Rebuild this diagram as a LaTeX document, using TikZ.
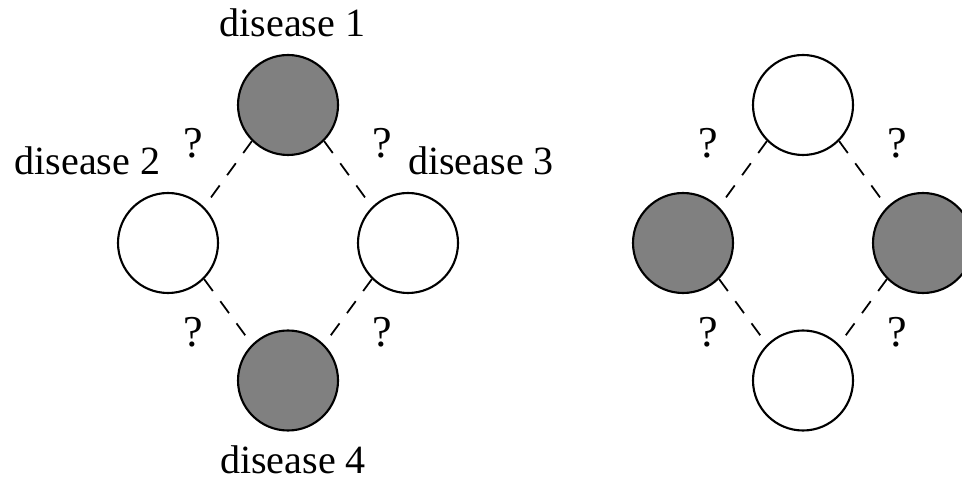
\documentclass[tikz,border=0pt]{standalone}
\usepackage{fontspec}
\setmainfont{Liberation Serif}
\usepackage{xcolor}

\begin{document}
\begin{tikzpicture}[
		every node/.style={font=\fontsize{11.4}{13}\selectfont},
		dis/.style={
			circle, draw,
			line width=.6pt,
			minimum size=1cm,
			inner sep=0pt,
		},
		sick/.style={dis, fill=gray},
		link/.style={dash pattern=on 4.2pt off 3.6pt, line width=.5pt},
		lbl/.style={anchor=base, inner sep=0pt},
		qm/.style={inner sep=0pt, scale=1.1}]
		\useasboundingbox (0,0) rectangle (9.62,4.88);
		\def\dx{1.2}; \def\dy{1.38}; \def\qx{0.945};
		
		% observed pattern
		\def\cx{2.88}; \def\cy{2.45};
			\node[sick] (a1) at (\cx,\cy+\dy) {};
			\node[dis]  (a2) at (\cx-\dx,\cy) {};
			\node[dis]  (a3) at (\cx+\dx,\cy) {};
			\node[sick] (a4) at (\cx,\cy-\dy+0.005) {};
			\draw[link] (a1.south west) -- (a2.north east);
			\draw[link] (a1.south east) -- (a3.north west);
			\draw[link] (a2.south east) -- (a4.north west);
			\draw[link] (a3.south west) -- (a4.north east);
			\node[lbl] (l1) at (2.925,4.51) {disease 1};
			\node[lbl] (l2) at (0.875,3.13) {disease 2};
			\node[lbl] (l3) at (4.81,3.13) {disease 3};
			\node[lbl] (l4) at (2.93,0.15) {disease 4};
			\node[qm] (qa1) at (\cx-\qx,3.45) {?};
			\node[qm] (qa2) at (\cx+\qx,3.45) {?};
			\node[qm] (qa3) at (\cx-\qx,1.56) {?};
			\node[qm] (qa4) at (\cx+\qx,1.56) {?};
		
		% alternative pattern
		\def\cx{8.03};
			\node[dis]  (b1) at (\cx,\cy+\dy) {};
			\node[sick] (b2) at (\cx-\dx,\cy) {};
			\node[sick] (b3) at (\cx+\dx,\cy) {};
			\node[dis]  (b4) at (\cx,\cy-\dy+0.005) {};
			\draw[link] (b1.south west) -- (b2.north east);
			\draw[link] (b1.south east) -- (b3.north west);
			\draw[link] (b2.south east) -- (b4.north west);
			\draw[link] (b3.south west) -- (b4.north east);
			\node[qm] (qb1) at (\cx-\qx,3.45) {?};
			\node[qm] (qb2) at (\cx+\qx,3.45) {?};
			\node[qm] (qb3) at (\cx-\qx,1.56) {?};
			\node[qm] (qb4) at (\cx+\qx,1.56) {?};
	\end{tikzpicture}
\end{document}
